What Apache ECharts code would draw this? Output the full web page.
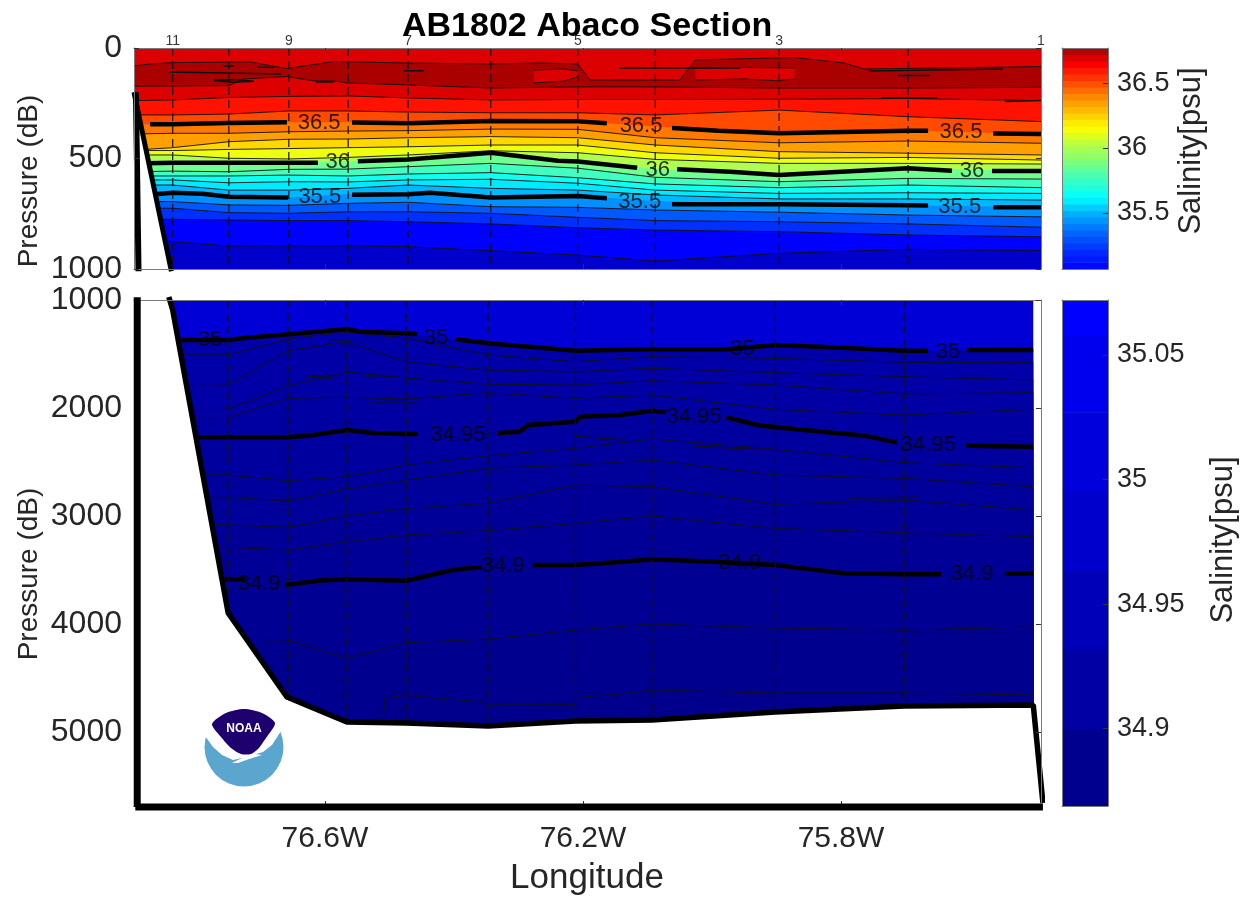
<!DOCTYPE html>
<html>
<head>
<meta charset="utf-8">
<title>AB1802 Abaco Section</title>
<style>
html,body{margin:0;padding:0;background:#fff}
#chart{width:1252px;height:901px}
</style>
<script src="https://cdn.jsdelivr.net/npm/echarts@6/dist/echarts.min.js"></script>
</head>
<body>
<div id="chart"></div>
<script>
// longitude of every column in the upper panel (0-1000 dB)
const upperLon=[-76.896,-76.836,-76.749,-76.656,-76.564,-76.471,-76.343,-76.208,-76.088,-75.896,-75.696,-75.490]
// pressure of each salinity contour at those columns
const s367=[238,235,224,219,217,226,235,233,233,232,229,238]
const s366=[303,303,299,285,285,290,293,293,303,281,311,333]
const s365=[346,345,339,336,336,341,330,332,355,386,374,389]
const s364=[389,386,386,379,376,374,367,368,406,429,421,431]
const s363=[462,451,424,413,412,406,401,406,439,469,476,484]
const s362=[464,464,459,455,451,447,439,439,474,499,495,507]
const s361=[484,484,499,502,495,484,465,474,504,522,522,525]
const s360=[522,519,519,519,514,504,474,514,548,575,544,557]
const s359=[560,557,560,549,548,537,522,544,585,605,590,593]
const s358=[579,579,579,575,579,570,564,587,615,632,620,632]
const s357=[597,597,610,605,606,597,594,612,643,658,655,658]
const s356=[620,620,643,643,635,620,635,643,665,683,683,688]
const s355=[662,655,673,676,662,662,677,670,692,707,712,721]
const s354=[695,695,710,712,703,698,718,721,733,743,756,764]
const s353=[725,725,745,748,741,741,748,766,781,786,796,811]
const s352=[775,775,778,781,781,786,796,813,824,831,846,854]
const s351=[869,876,896,895,895,899,917,937,964,929,911,917]
const upperFill=['#ff1200','#ff4a00','#ff7800','#ffa000','#ffd800','#eeff10','#b0ff50','#70ff90','#40ffc0','#10fff0','#00eaff','#00b8ff','#0090ff','#0058ff','#0030ff','#0000ff','#0000cc']
const upperLevels=[s367,s366,s365,s364,s363,s362,s361,s360,s359,s358,s357,s356,s355,s354,s353,s352,s351]
const upperThin=[1,1,0,1,1,1,1,0,1,1,1,1,0,1,1,1,1]

// the dark core near 100 dB, its upper and lower edge
const coreTop=[[-76.896,81],[-76.871,72],[-76.833,66],[-76.716,63],[-76.659,93],[-76.586,61],[-76.471,68],[-76.344,72],[-76.267,68],[-76.208,72],[-76.189,145],[-76.050,145],[-76.026,54],[-75.873,43],[-75.795,68],[-75.764,95],[-75.490,84]]
const coreBottom=[[-76.896,173],[-76.749,170],[-76.726,140],[-76.659,129],[-76.617,149],[-76.586,149],[-76.566,158],[-76.471,167],[-76.344,181],[-76.208,176],[-76.088,176],[-75.896,181],[-75.696,181],[-75.490,178]]
const holeATop=[[-76.276,100],[-76.23,95],[-76.208,104]]
const holeABottom=[[-76.276,158],[-76.23,150],[-76.208,130]]
const holeBTop=[[-76.026,92],[-75.95,88],[-75.872,90]]
const holeBBottom=[[-76.026,145],[-75.95,140],[-75.90,148],[-75.872,140]]
const upperPatches=[
  [[-76.842,109],[-76.668,118]],
  [[-76.772,147],[-76.74,142],[-76.710,150],[-76.74,155],[-76.772,147]],
  [[-76.478,103],[-76.447,103]],
  [[-76.757,81],[-76.741,81]],
  [[-76.705,87],[-76.679,87]],
  [[-76.614,154],[-76.586,154]],
  [[-75.757,104],[-75.549,95]],
  [[-75.713,124],[-75.662,124]],
  [[-75.738,226],[-75.651,226]],
  [[-75.546,242],[-75.490,238]],
  [[-76.144,90],[-75.957,90]]
]

// heavy contours, with the breaks left for their labels
const thick365=[[-76.871,345],[-76.836,345],[-76.749,339],[-76.659,336],[-76.6,null],[-76.558,337],[-76.471,341],[-76.343,330],[-76.208,332],[-76.163,341],[-76.1,null],[-76.062,362],[-75.99,374],[-75.896,386],[-75.696,374],[-75.665,374],[-75.6,null],[-75.564,387],[-75.49,389]]
const thick360=[[-76.875,522],[-76.836,519],[-76.749,519],[-76.656,519],[-76.611,519],[-76.58,null],[-76.549,513],[-76.471,504],[-76.437,497],[-76.343,474],[-76.239,510],[-76.208,514],[-76.116,542],[-76.08,null],[-76.054,549],[-75.972,560],[-75.896,575],[-75.696,544],[-75.628,555],[-75.6,null],[-75.566,556],[-75.49,557]]
const thick355=[[-76.865,662],[-76.836,655],[-76.79,660],[-76.749,673],[-76.657,676],[-76.6,null],[-76.558,664],[-76.471,662],[-76.437,655],[-76.343,677],[-76.208,670],[-76.163,680],[-76.1,null],[-76.062,707],[-75.896,707],[-75.696,712],[-75.665,713],[-75.6,null],[-75.564,721],[-75.49,721]]
const upperLabels=[
  [-76.609,339,'36.5'],[-76.110,353,'36.5'],[-75.614,382,'36.5'],
  [-76.580,516,'36'],[-76.084,552,'36'],[-75.597,557,'36'],
  [-76.608,674,'35.5'],[-76.112,697,'35.5'],[-75.616,720,'35.5']
]
const upperStations=[-76.836,-76.749,-76.656,-76.564,-76.471,-76.343,-76.208,-76.088,-75.896,-75.696]
const stationLabels=[[-76.836,'11'],[-76.656,'9'],[-76.471,'7'],[-76.208,'5'],[-75.896,'3'],[-75.490,'1']]
const upperBottomLine=[[-76.896,200],[-76.838,1010]]
const upperWallLine=[[-76.893,200],[-76.889,1010]]

// lower panel (1000 dB to the bottom)
const lowerLon=[-76.84,-76.750,-76.657,-76.566,-76.474,-76.347,-76.212,-76.093,-75.902,-75.702,-75.502]
const d3500=[1370,1370,1318,1269,1308,1401,1469,1456,1417,1469,1463]
const d3499=[1509,1509,1361,1296,1352,1509,1571,1525,1540,1577,1581]
const d3498=[1796,1787,1469,1386,1574,1648,1664,1632,1673,1710,1741]
const d3497=[2019,2012,1796,1667,1722,1780,1787,1747,1787,1870,1858]
const d3496=[2093,2088,1910,1901,1917,1858,1910,1880,2012,2065,2012]
const d3495=[2271,2271,2271,2204,2241,2231,2127,2025,2179,2343,2358]
const d3494=[2620,2620,2673,2636,2528,2442,2373,2287,2382,2506,2553]
const d3493=[2824,2827,2861,2750,2667,2558,2528,2481,2620,2651,2729]
const d3492=[3074,3083,3105,3000,2929,2882,2713,2729,2892,2852,2944]
const d3491=[3287,3290,3315,3238,3176,3136,3068,3000,3114,3155,3192]
const d3490=[3586,3586,3639,3586,3599,3463,3454,3401,3454,3540,3530]
const d3489=[4139,4139,4148,4318,4173,4139,4056,4000,4037,4056,4028]
const lowerFill=['#0000aa','#0000a8','#0000a6','#0000a4','#0000a2','#00009e','#00009c','#00009a','#000098','#000096','#000092','#00008f']
const lowerLevels=[d3500,d3499,d3498,d3497,d3496,d3495,d3494,d3493,d3492,d3491,d3490,d3489]
const lowerThin=[0,1,1,1,1,0,1,1,1,1,0,1]
const d3488=[[-76.510,4900],[-76.507,4685],[-76.474,4660],[-76.362,4719],[-76.347,4741],[-76.212,4744],[-76.200,4676],[-76.143,4648],[-76.093,4611],[-75.902,4639],[-75.702,4639],[-75.502,4657]]
const thick3500=[[-76.822,1370],[-76.750,1370],[-76.732,1356],[-76.657,1318],[-76.566,1269],[-76.546,1293],[-76.474,1308],[-76.457,1318],[-76.43,null],[-76.397,1364],[-76.347,1401],[-76.212,1469],[-76.093,1456],[-75.975,1456],[-75.902,1417],[-75.816,1438],[-75.702,1469],[-75.665,1469],[-75.63,null],[-75.605,1463],[-75.502,1463]]
const thick3495=[[-76.798,2271],[-76.750,2271],[-76.657,2271],[-76.623,2255],[-76.566,2204],[-76.526,2232],[-76.474,2241],[-76.456,2241],[-76.39,null],[-76.333,2231],[-76.298,2219],[-76.285,2157],[-76.212,2127],[-76.205,2080],[-76.143,2065],[-76.093,2025],[-76.071,2040],[-76.03,null],[-75.978,2086],[-75.930,2157],[-75.902,2179],[-75.764,2256],[-75.713,2321],[-75.66,null],[-75.606,2349],[-75.502,2358]]
const thick3490=[[-76.755,3586],[-76.724,3586],[-76.7,null],[-76.662,3639],[-76.608,3598],[-76.566,3586],[-76.474,3599],[-76.402,3500],[-76.357,3472],[-76.32,null],[-76.278,3454],[-76.212,3454],[-76.143,3426],[-76.093,3401],[-75.988,3426],[-75.902,3454],[-75.795,3531],[-75.702,3540],[-75.645,3540],[-75.6,null],[-75.546,3537],[-75.502,3530]]
const lowerPatches=[
  [[-76.626,1705],[-76.59,1700],[-76.59,1725],[-76.626,1705]],
  [[-76.537,1713],[-76.489,1713]],
  [[-76.529,1955],[-76.455,1955]],
  [[-76.590,1370],[-76.559,1370]],
  [[-76.257,1664],[-76.195,1664]],
  [[-76.215,2260],[-76.133,2295]],
  [[-75.787,2835],[-75.678,2825]],
  [[-76.030,2350],[-75.927,2385]]
]
const lowerLabels=[
  [-76.778,1370,'35'],[-76.428,1352,'35'],[-75.953,1454,'35'],[-75.634,1481,'35'],
  [-76.394,2250,'34.95'],[-76.028,2083,'34.95'],[-75.665,2343,'34.95'],
  [-76.702,3630,'34.9'],[-76.324,3463,'34.9'],[-75.957,3435,'34.9'],[-75.597,3537,'34.9']
]
const lowerStations=[-76.750,-76.657,-76.566,-76.474,-76.347,-76.212,-76.093,-75.902,-75.702]
const lowerFloor=[3898,4676,4907,4917,4944,4898,4889,4815,4759]
const bottomLine=[[-76.842,972],[-76.836,1093],[-76.750,3898],[-76.659,4676],[-76.566,4907],[-76.474,4917],[-76.347,4944],[-76.212,4898],[-76.093,4889],[-75.902,4815],[-75.702,4759],[-75.502,4750],[-75.487,5657]]
const lowerWallLine=[[-76.891,975],[-76.891,5695]]
const lowerBaseLine=[[-76.894,5695],[-75.487,5695]]

// axis ticks
const lonTicks=[-76.6,-76.2,-75.8]
const upperTicks=[0,500,1000]
const lowerTicks=[1000,2000,3000,4000,5000]
const upperBarTicks=[35.5,36,36.5]
const lowerBarTicks=[34.9,34.95,35,35.05]

// colour bars
const upperBarEdges=[35.069,35.12,35.17,35.22,35.27,35.32,35.37,35.42,35.47,35.52,35.57,35.62,35.67,35.72,35.77,35.82,35.87,35.92,35.97,36.02,36.07,36.12,36.17,36.22,36.27,36.32,36.37,36.42,36.47,36.52,36.57,36.62,36.67,36.72,36.77]
const upperBarStops=[[35.069,'#0000ff'],[35.22,'#0030ff'],[35.37,'#0070ff'],[35.5,'#00b0ff'],[35.62,'#00ffff'],[35.74,'#30ffcc'],[35.87,'#70ff88'],[36.0,'#a8ff50'],[36.16,'#ffff00'],[36.2,'#ffe800'],[36.3,'#ffb800'],[36.41,'#ff8000'],[36.53,'#ff3c00'],[36.64,'#ff0000'],[36.7,'#d80000'],[36.77,'#a80000']]
const lowerBarEdges=[34.869,34.9,34.932,34.963,34.995,35.027,35.058,35.072]
const lowerBarColors=['#00008f','#0000a4','#0000b8','#0000cc','#0000dc','#0000ee','#0000ff']

const font='"Liberation Sans",Arial,sans-serif'
const textColor='#262626'
const boxColor='#7a7a7a'
const grids=[
  {left:134,top:48,width:907,height:221},
  {left:134,top:300,width:907,height:506},
  {left:1062,top:48,width:46,height:221},
  {left:1062,top:300,width:46,height:506}
]

function lonLabel(v){return Math.abs(v).toFixed(1)+'W'}

function axisBase(gridIndex,position,min,max,ticks,inverse){
  return {
    type:'value',gridIndex,position,min,max,inverse:!!inverse,z:20,
    splitLine:{show:false},
    axisLine:{show:true,onZero:false,lineStyle:{color:boxColor,width:1}},
    axisTick:{show:ticks.length>0,inside:true,length:5,customValues:ticks,lineStyle:{color:'#333'}},
    axisLabel:{show:false}
  }
}
function withLabels(axis,ticks,margin,size,formatter){
  axis.axisLabel={show:true,customValues:ticks,margin,fontSize:size,color:textColor,fontFamily:font,hideOverlap:false,showMinLabel:true,showMaxLabel:true,formatter}
  return axis
}

const lonMin=-76.896,lonMax=-75.49
const xAxis=[
  axisBase(0,'bottom',lonMin,lonMax,lonTicks),
  axisBase(0,'top',lonMin,lonMax,lonTicks),
  withLabels(axisBase(1,'bottom',lonMin,lonMax,lonTicks),lonTicks,18,30,lonLabel),
  axisBase(1,'top',lonMin,lonMax,lonTicks),
  axisBase(2,'bottom',0,1,[]),
  axisBase(2,'top',0,1,[]),
  axisBase(3,'bottom',0,1,[]),
  axisBase(3,'top',0,1,[])
]
const yAxis=[
  withLabels(axisBase(0,'left',0,1000,upperTicks,true),upperTicks,12,32,v=>String(v)),
  axisBase(0,'right',0,1000,upperTicks,true),
  withLabels(axisBase(1,'left',1000,5685,lowerTicks,true),lowerTicks,12,32,v=>String(v)),
  axisBase(1,'right',1000,5685,lowerTicks,true),
  axisBase(2,'left',35.069,36.77,[]),
  withLabels(axisBase(2,'right',35.069,36.77,upperBarTicks),upperBarTicks,9,27,v=>String(v)),
  axisBase(3,'left',34.869,35.072,[]),
  withLabels(axisBase(3,'right',34.869,35.072,lowerBarTicks),lowerBarTicks,9,27,v=>String(v))
]

const series=[]

function pairs(lon,vals){return lon.map((x,i)=>[x,vals[i]])}

function addLine(panel,data,color,width,extra){
  series.push(Object.assign({
    type:'line',xAxisIndex:panel*2,yAxisIndex:panel*2,data,
    symbol:'none',silent:true,animation:false,connectNulls:false,
    lineStyle:{color,width}
  },extra||{}))
}
function addBand(panel,data,fill,lineWidth){
  addLine(panel,data,'#111',lineWidth,{
    areaStyle:{color:fill,opacity:1,origin:'end'},
    lineStyle:{color:'#111',width:lineWidth,opacity:lineWidth?0.9:0}
  })
}
const dashStyle={color:'#111',width:1.2,type:[8,5]}

// upper panel: each level paints everything below it
addBand(0,[[lonMin,0],[lonMax,0]],'#dd0000',0)
addBand(0,coreTop,'#aa0000',1)
addBand(0,holeATop,'#dd0000',1)
addBand(0,holeABottom,'#aa0000',1)
addBand(0,holeBTop,'#dd0000',1)
addBand(0,holeBBottom,'#aa0000',1)
addBand(0,coreBottom,'#dd0000',1)
upperLevels.forEach((vals,i)=>addBand(0,pairs(upperLon,vals),upperFill[i],upperThin[i]))
upperPatches.forEach(p=>addLine(0,p,'#111',1.5))
addLine(0,thick365,'#000',4.5,{z:4})
addLine(0,thick360,'#000',4.5,{z:4})
addLine(0,thick355,'#000',4.5,{z:4})
upperStations.forEach(x=>addLine(0,[[x,0],[x,1000]],'#111',1.2,{lineStyle:dashStyle,z:4}))
addLine(0,upperBottomLine,'#000',5,{clip:false,areaStyle:{color:'#fff',opacity:1,origin:'end'},z:6})
addLine(0,upperWallLine,'#000',6,{clip:false,z:6})

// lower panel
addBand(1,[[lowerLon[0],1000],[lowerLon[lowerLon.length-1],1000]],'#0000d6',0)
lowerLevels.forEach((vals,i)=>addBand(1,pairs(lowerLon,vals),lowerFill[i],lowerThin[i]))
addBand(1,d3488,'#00008c',1)
lowerPatches.forEach(p=>addLine(1,p,'#111',1.2))
addLine(1,thick3500,'#000',4.5,{z:4})
addLine(1,thick3495,'#000',4.5,{z:4})
addLine(1,thick3490,'#000',4.5,{z:4})
lowerStations.forEach((x,i)=>addLine(1,[[x,1000],[x,lowerFloor[i]]],'#111',1.2,{lineStyle:dashStyle,z:4}))
addLine(1,bottomLine,'#000',5.5,{clip:false,areaStyle:{color:'#fff',opacity:1,origin:'end'},z:6})
addLine(1,lowerWallLine,'#000',7,{clip:false,z:25})
addLine(1,lowerBaseLine,'#000',7,{clip:false,z:25})

// inline contour labels
function addLabels(panel,list){
  series.push({
    type:'scatter',xAxisIndex:panel*2,yAxisIndex:panel*2,data:list,
    symbolSize:1,itemStyle:{color:'transparent'},silent:true,animation:false,z:7,
    label:{show:true,position:'inside',fontSize:22,fontFamily:font,color:'#000',textBorderWidth:0,textBorderColor:'transparent',formatter:p=>p.data[2]}
  })
}
addLabels(0,upperLabels)
addLabels(1,lowerLabels)
series.push({
  type:'scatter',xAxisIndex:0,yAxisIndex:0,clip:false,
  data:stationLabels.map(s=>[s[0],0,s[1]]),
  symbolSize:1,itemStyle:{color:'transparent'},silent:true,animation:false,z:7,
  label:{show:true,position:'top',distance:-1,fontSize:14,fontFamily:font,color:'#000',formatter:p=>p.data[2]}
})

// colour bars
function stopColor(v){
  for(let i=1;i<upperBarStops.length;i++){
    if(v<=upperBarStops[i][0]){
      const a=upperBarStops[i-1],b=upperBarStops[i]
      return echarts.color.lerp((v-a[0])/(b[0]-a[0]),[a[1],b[1]])
    }
  }
  return upperBarStops[upperBarStops.length-1][1]
}
function addBar(panel,edges,colorOf){
  const data=[]
  for(let i=0;i<edges.length-1;i++){data.push({value:[edges[i],edges[i+1]],itemStyle:{color:colorOf(i)}})}
  series.push({
    type:'custom',xAxisIndex:panel*2,yAxisIndex:panel*2,data,silent:true,animation:false,
    renderItem(params,api){
      const a=api.coord([0,api.value(1)]),b=api.coord([1,api.value(0)])
      return {type:'rect',shape:{x:a[0],y:a[1],width:b[0]-a[0],height:b[1]-a[1]+0.5},style:{fill:api.visual('color')}}
    }
  })
}
addBar(2,upperBarEdges,i=>stopColor((upperBarEdges[i]+upperBarEdges[i+1])/2))
addBar(3,lowerBarEdges,i=>lowerBarColors[i])

function vText(text,x,y,size){
  return {type:'text',x,y,rotation:Math.PI/2,z:30,style:{text,fontSize:size,fontFamily:font,fill:textColor,align:'center',verticalAlign:'middle'}}
}

const logo=[
  {type:'circle',shape:{cx:244,cy:747,r:39.5},style:{fill:'#5ba6cf'},z:30},
  {type:'polygon',shape:{points:[[200,700],[288,700],[288,727],[281,731],[272,745],[263,752],[246,757],[233,760],[222,755],[213,747],[205,736],[200,735]]},style:{fill:'#fff'},z:31},
  {type:'polygon',shape:{smooth:0.25,points:[[212,724],[226,713],[244,709],[262,713],[275,723],[266,738],[258,749],[251,754],[241,754],[231,748],[221,737]]},style:{fill:'#1f006f'},z:32},
  {type:'polygon',shape:{points:[[232,763],[244,757],[255,754],[262,755],[249,759],[238,763]]},style:{fill:'#fff'},z:33},
  {type:'text',x:244,y:729,z:34,style:{text:'NOAA',fontSize:12,fontWeight:'bold',fontFamily:font,fill:'#fff',align:'center',verticalAlign:'middle'}}
]

const option={
  animation:false,
  backgroundColor:'#fff',
  title:{text:'AB1802 Abaco Section',left:397,top:5,textStyle:{fontSize:34,fontWeight:'bold',fontFamily:font,color:'#000'}},
  grid:grids,
  xAxis,
  yAxis,
  series,
  graphic:[
    vText('Pressure (dB)',29,181,28),
    vText('Pressure (dB)',29,574,28),
    vText('Salinity[psu]',1191,151,31),
    vText('Salinity[psu]',1223,540,31),
    {type:'text',x:587,y:878,z:30,style:{text:'Longitude',fontSize:35,fontFamily:font,fill:textColor,align:'center',verticalAlign:'middle'}}
  ].concat(logo)
}

const myChart=echarts.init(document.getElementById('chart'),null,{renderer:'canvas'})
myChart.setOption(option)
</script>
</body>
</html>
